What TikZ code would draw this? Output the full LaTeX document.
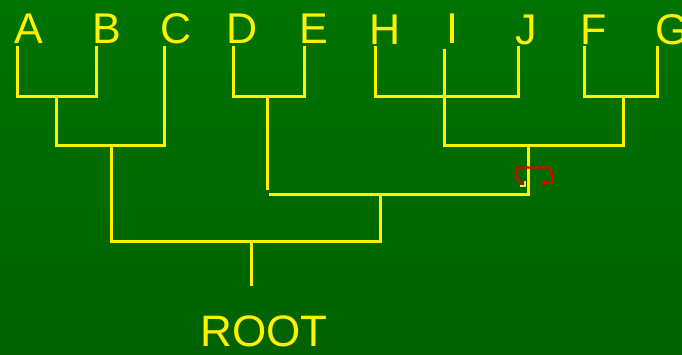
\documentclass[tikz,border=0pt]{standalone}
\usepackage{fontspec}
\setmainfont{Liberation Sans}
\usetikzlibrary{arrows.meta}
\definecolor{bgtop}{RGB}{0,115,0}
\definecolor{bgbot}{RGB}{0,97,0}
\definecolor{loopred}{RGB}{228,0,0}
\begin{document}
\begin{tikzpicture}[x=1pt,y=-1pt,
  tree/.style={draw=yellow, line width=3pt, line join=miter},
  leaf/.style={text=yellow, font=\fontsize{43}{43}\selectfont, inner sep=0pt, anchor=base},
  rot/.style={draw=loopred, line width=2.2pt, line join=round}]
\useasboundingbox (0,0) rectangle (682,354);
\shade[top color=bgtop, bottom color=bgbot] (0,0) rectangle (682,354);
% leaves
\node[leaf] (A) at (29,43) {A};
\node[leaf] (B) at (107,43) {B};
\node[leaf] (C) at (176.5,43.5) {C};
\node[leaf] (D) at (242,43) {D};
\node[leaf] (E) at (314,43) {E};
\node[leaf] (H) at (385,44) {H};
\node[leaf] (I) at (452,43) {I};
\node[leaf] (J) at (526,44.5) {J};
\node[leaf] (F) at (594,44) {F};
\node[leaf] (G) at (672,44) {G};
\node[leaf, font=\fontsize{44}{44}\selectfont] (root) at (264,346.5) {ROOT};
% tips
\coordinate (a) at (17,46);   \coordinate (b) at (96,46);
\coordinate (c) at (164,46);  \coordinate (d) at (233,46);
\coordinate (e) at (304.3,46);\coordinate (h) at (375,46);
\coordinate (i) at (444,49);  \coordinate (j) at (518,46);
\coordinate (f) at (584,46);  \coordinate (g) at (657.3,46);
\coordinate (r) at (251,286);
% tree
\draw[tree] (a) -- (17,96) -- (96,96) -- (b);
\draw[tree] (56.7,96) -- (56.7,145) -- (164,145) -- (c);
\draw[tree] (111.5,145) -- (111.5,241) -- (380.7,241) -- (380.7,194);
\draw[tree] (251,241) -- (r);
\draw[tree] (d) -- (233,96) -- (304.3,96) -- (e);
\draw[tree] (267.5,96) -- (267.5,190);
\draw[tree] (269.3,194.3) -- (528.7,194.3) -- (528.7,145);
\draw[tree] (h) -- (375,96) -- (518,96) -- (j);
\draw[tree] (i) -- (444,145) -- (623.3,145) -- (623.3,96);
\draw[tree] (f) -- (584,96) -- (657.3,96) -- (g);
% small yellow mark
\draw[draw=yellow, line width=2pt] (525,180.5) -- (525,186) -- (520,186);
% rotation loop
\draw[rot, -{Stealth[length=5pt,width=8pt]}]
  (523,183) .. controls (515,181) and (514,172) .. (518,167.5)
  -- (546,167.5) .. controls (551,168) and (552,172) .. (552,176)
  -- (552,182.5) -- (541,183.5);
\end{tikzpicture}
\end{document}
